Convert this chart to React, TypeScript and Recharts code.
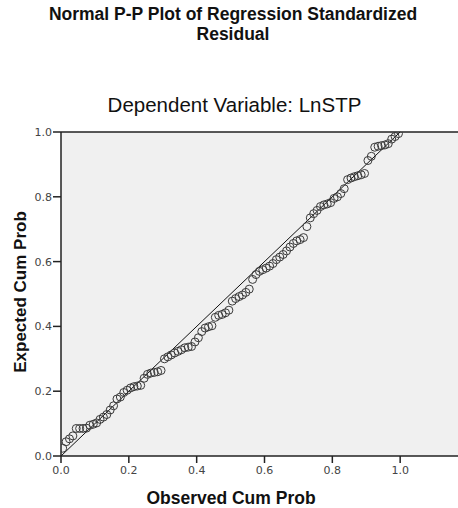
import React from 'react';
import {
  ScatterChart,
  Scatter,
  XAxis,
  YAxis,
  ReferenceLine,
  ReferenceArea,
} from 'recharts';

// observed cumulative probability (x) for each residual
const observed = [
  0.005, 0.015, 0.025, 0.035, 0.045, 0.055, 0.065, 0.075, 0.085, 0.095,
  0.105, 0.115, 0.125, 0.135, 0.145, 0.155, 0.165, 0.175, 0.185, 0.195,
  0.205, 0.215, 0.225, 0.235, 0.245, 0.255, 0.265, 0.275, 0.285, 0.295,
  0.305, 0.315, 0.325, 0.335, 0.345, 0.355, 0.365, 0.375, 0.385, 0.395,
  0.405, 0.415, 0.425, 0.435, 0.445, 0.455, 0.465, 0.475, 0.485, 0.495,
  0.505, 0.515, 0.525, 0.535, 0.545, 0.555, 0.565, 0.575, 0.585, 0.595,
  0.605, 0.615, 0.625, 0.635, 0.645, 0.655, 0.665, 0.675, 0.685, 0.695,
  0.705, 0.715, 0.725, 0.735, 0.745, 0.755, 0.765, 0.775, 0.785, 0.795,
  0.805, 0.815, 0.825, 0.835, 0.845, 0.855, 0.865, 0.875, 0.885, 0.895,
  0.905, 0.915, 0.925, 0.935, 0.945, 0.955, 0.965, 0.975, 0.985, 0.995,
];

// expected cumulative probability (y)
const expected = [
  0.024, 0.044, 0.053, 0.062, 0.085, 0.085, 0.085, 0.086, 0.095, 0.098,
  0.102, 0.113, 0.12, 0.128, 0.142, 0.155, 0.176, 0.182, 0.196, 0.203,
  0.21, 0.214, 0.216, 0.218, 0.24, 0.252, 0.256, 0.258, 0.26, 0.264,
  0.3, 0.306, 0.312, 0.318, 0.323, 0.328, 0.334, 0.336, 0.338, 0.352,
  0.365, 0.384, 0.395, 0.399, 0.402, 0.428, 0.434, 0.437, 0.442, 0.45,
  0.478, 0.486, 0.492, 0.497, 0.505, 0.515, 0.545, 0.56, 0.57, 0.575,
  0.58, 0.586, 0.594, 0.606, 0.614, 0.622, 0.633, 0.645, 0.656, 0.664,
  0.668, 0.674, 0.708, 0.735, 0.748, 0.758, 0.77, 0.775, 0.778, 0.782,
  0.795, 0.8, 0.81, 0.825, 0.853, 0.858, 0.862, 0.865, 0.868, 0.872,
  0.912, 0.925, 0.953, 0.956, 0.958, 0.96, 0.964, 0.978, 0.986, 0.995,
];

const axisTicks = [0, 0.2, 0.4, 0.6, 0.8, 1.0];

const titleLines = ['Normal P-P Plot of Regression Standardized', 'Residual'];

const points = observed.map((x, i) => ({ x, y: expected[i] }));

const font = '"Liberation Sans", Arial, sans-serif';

const Ring = (props: any) => {
  const { cx, cy } = props;
  if (cx == null || cy == null) return null;
  return <circle cx={cx} cy={cy} r={4} fill="none" stroke="#3a3a3a" strokeWidth={1} />;
};

const tickStyle = { fontSize: 11, fill: '#444', fontFamily: '"DejaVu Sans", sans-serif' };

export default function App() {
  return (
    <div
      style={{
        position: 'absolute',
        left: 0,
        top: 0,
        width: 458,
        height: 508,
        overflow: 'hidden',
        background: '#fff',
        fontFamily: font,
      }}
    >
      {titleLines.map((line, i) => (
        <div
          key={line}
          style={{
            position: 'absolute',
            left: 0,
            width: 466,
            top: 4 + i * 20,
            textAlign: 'center',
            fontWeight: 'bold',
            fontSize: 17.5,
            lineHeight: '20px',
            color: '#111',
          }}
        >
          {line}
        </div>
      ))}
      <div
        style={{
          position: 'absolute',
          left: 0,
          width: 469,
          top: 93,
          textAlign: 'center',
          fontSize: 20.5,
          lineHeight: '24px',
          color: '#111',
        }}
      >
        Dependent Variable: LnSTP
      </div>
      <div
        style={{
          position: 'absolute',
          left: 21,
          top: 292,
          transform: 'translate(-50%, -50%) rotate(-90deg)',
          whiteSpace: 'nowrap',
          fontWeight: 'bold',
          fontSize: 17,
          color: '#111',
        }}
      >
        Expected Cum Prob
      </div>
      <div
        style={{
          position: 'absolute',
          left: 0,
          width: 462,
          top: 487,
          textAlign: 'center',
          fontWeight: 'bold',
          fontSize: 17.5,
          lineHeight: '22px',
          color: '#111',
        }}
      >
        Observed Cum Prob
      </div>
      <div style={{ position: 'absolute', left: 0, top: 0 }}>
        <ScatterChart
          width={470}
          height={508}
          margin={{ top: 132, right: 2, left: 0, bottom: 0 }}
        >
          <ReferenceArea x1={0} x2={1.2} y1={0} y2={1} fill="#f0f0f0" fillOpacity={1} stroke="none" />
          <XAxis
            type="number"
            dataKey="x"
            domain={[0, 1.2]}
            ticks={axisTicks}
            tickFormatter={(v: number) => v.toFixed(1)}
            allowDataOverflow
            height={52}
            tickSize={7}
            tickMargin={3}
            tick={tickStyle}
            axisLine={{ stroke: '#222', strokeWidth: 1.5 }}
            tickLine={{ stroke: '#222', strokeWidth: 1.5 }}
          />
          <YAxis
            type="number"
            dataKey="y"
            domain={[0, 1]}
            ticks={axisTicks}
            tickFormatter={(v: number) => v.toFixed(1)}
            allowDataOverflow
            width={61}
            tickSize={8}
            tickMargin={1}
            tick={tickStyle}
            axisLine={{ stroke: '#222', strokeWidth: 1.5 }}
            tickLine={{ stroke: '#222', strokeWidth: 1.5 }}
          />
          <ReferenceLine y={1} stroke="#222" strokeWidth={1.5} />
          <ReferenceLine
            segment={[
              { x: 0, y: 0 },
              { x: 1, y: 1 },
            ]}
            stroke="#111"
            strokeWidth={1}
          />
          <Scatter data={points} shape={Ring} isAnimationActive={false} />
        </ScatterChart>
      </div>
    </div>
  );
}
